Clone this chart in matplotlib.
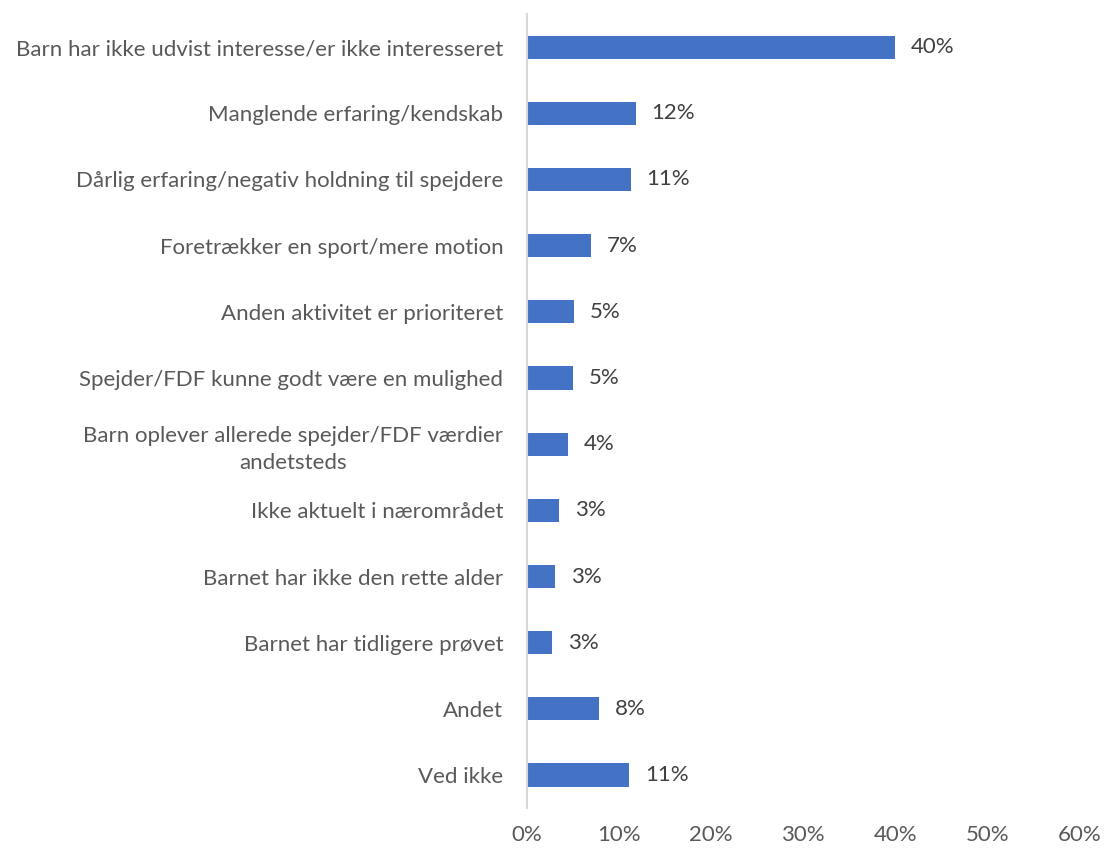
import matplotlib
matplotlib.use('Agg')
import matplotlib.pyplot as plt
import numpy as np

# categories top to bottom
categories = [
    'Barn har ikke udvist interesse/er ikke interesseret',
    'Manglende erfaring/kendskab',
    'Dårlig erfaring/negativ holdning til spejdere',
    'Foretrækker en sport/mere motion',
    'Anden aktivitet er prioriteret',
    'Spejder/FDF kunne godt være en mulighed',
    'Barn oplever allerede spejder/FDF værdier\nandetsteds',
    'Ikke aktuelt i nærområdet',
    'Barnet har ikke den rette alder',
    'Barnet har tidligere prøvet',
    'Andet',
    'Ved ikke',
]
values = [40.0, 11.85, 11.3, 6.96, 5.1, 5.0, 4.46, 3.48, 3.04, 2.72, 7.83, 11.1]
xticks = [0, 10, 20, 30, 40, 50, 60]

plt.rcParams['font.family'] = ['Lato', 'DejaVu Sans']
text_color = '#595959'
fs = 16

fig = plt.figure(figsize=(11.07, 8.48), dpi=100)
ax = fig.add_axes([0.476, 0.047, 0.499, 0.9365])

y = np.arange(len(categories))
ax.barh(y, values, height=0.35, color='#4472C4')
ax.set_ylim(len(categories) - 0.5, -0.5)
ax.set_xlim(0, 60)

# value labels
for yi, v in zip(y, values):
    ax.text(v + 1.7, yi, f'{v:.0f}%', va='center', ha='left',
            fontsize=fs, color='#404040')

ax.set_yticks(y)
ax.set_yticklabels(categories, fontsize=fs, color=text_color,
                   multialignment='center', linespacing=1.4)
ax.set_xticks(xticks)
ax.set_xticklabels([f'{t}%' for t in xticks], fontsize=fs, color=text_color)
ax.tick_params(axis='both', length=0)
ax.tick_params(axis='y', pad=17)
ax.tick_params(axis='x', pad=12)

for s in ['top', 'right', 'bottom']:
    ax.spines[s].set_visible(False)
ax.spines['left'].set_color('#D9D9D9')
ax.spines['left'].set_linewidth(1.5)

fig.savefig('out.png', dpi=100)
